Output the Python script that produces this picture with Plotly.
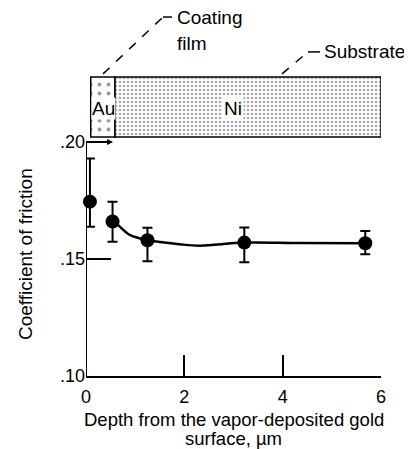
import plotly.graph_objects as go

# Data
depth = [0.08, 0.54, 1.25, 3.22, 5.68]
cof = [0.1745, 0.166, 0.158, 0.157, 0.1567]
cof_upper = [0.193, 0.1745, 0.1634, 0.1635, 0.162]
cof_lower = [0.1638, 0.1574, 0.149, 0.1486, 0.152]

curve_depth = [0.54, 0.65, 0.89, 1.25, 1.91, 2.32, 3.21, 4.35, 5.67]
curve_cof = [0.166, 0.1645, 0.1603, 0.1581, 0.1563, 0.1557, 0.1570, 0.1568, 0.1567]

x_ticks = [0, 2, 4, 6]
x_ticktext = ["0", "2", "4", "6"]
y_ticks = [0.10, 0.15, 0.20]
y_ticktext = [".10", ".15", ".20"]

FONT = "Liberation Sans, Arial, sans-serif"

err_plus = [u - c for u, c in zip(cof_upper, cof)]
err_minus = [c - l for c, l in zip(cof, cof_lower)]

fig = go.Figure()

# Layer diagram (Au coating film + Ni substrate)
box_base, box_h = 0.2021, 0.0257
fig.add_trace(go.Bar(
    x=[0.343], y=[box_h], base=[box_base], width=[0.494],
    marker=dict(pattern=dict(shape=".", fgcolor="#333", bgcolor="white", size=9, solidity=0.15),
                line=dict(color="black", width=1.5)),
    cliponaxis=False, showlegend=False, hoverinfo="skip"))
fig.add_trace(go.Bar(
    x=[3.295], y=[box_h], base=[box_base], width=[5.41],
    marker=dict(pattern=dict(shape=".", fgcolor="#555", bgcolor="white", size=4, solidity=0.35),
                line=dict(color="black", width=1.5)),
    cliponaxis=False, showlegend=False, hoverinfo="skip"))

# Smooth curve
fig.add_trace(go.Scatter(
    x=curve_depth, y=curve_cof, mode="lines",
    line=dict(color="black", width=2.5, shape="spline", smoothing=1.0),
    showlegend=False, hoverinfo="skip"))

# Data points with error bars
fig.add_trace(go.Scatter(
    x=depth, y=cof, mode="markers",
    marker=dict(color="black", size=14),
    error_y=dict(type="data", symmetric=False, array=err_plus, arrayminus=err_minus,
                 color="black", thickness=2, width=5),
    cliponaxis=False, showlegend=False))

ymax = 0.10 + 368 / 2340

shapes = [
    # y-axis line
    dict(type="line", xref="x", yref="y", x0=0, x1=0, y0=0.10, y1=0.20,
         line=dict(color="black", width=2)),
    # leader lines
    dict(type="line", xref="x", yref="y", x0=0.346, y0=0.2291, x1=1.566, y1=0.2534,
         line=dict(color="black", width=1.5, dash="dash")),
    dict(type="line", xref="x", yref="y", x0=1.566, y0=0.2534, x1=1.75, y1=0.2534,
         line=dict(color="black", width=1.5)),
    dict(type="line", xref="x", yref="y", x0=3.986, y0=0.2291, x1=4.515, y1=0.2385,
         line=dict(color="black", width=1.5, dash="dash")),
    dict(type="line", xref="x", yref="y", x0=4.515, y0=0.2385, x1=4.76, y1=0.2385,
         line=dict(color="black", width=1.5)),
]

tf = dict(family=FONT, size=19, color="black")
xt = dict(family=FONT, size=18.5, color="black")
annotations = [
    dict(text="Coating", x=1.81, y=0.2530, xref="x", yref="y", xanchor="left",
         yanchor="middle", showarrow=False, font=tf),
    dict(text="film", x=1.81, y=0.2423, xref="x", yref="y", xanchor="left",
         yanchor="middle", showarrow=False, font=tf),
    dict(text="Substrate", x=4.80, y=0.2385, xref="x", yref="y", xanchor="left",
         yanchor="middle", showarrow=False, font=tf),
    dict(text="Au", x=0.346, y=0.2145, xref="x", yref="y", showarrow=False, font=tf,
         bgcolor="white", borderpad=0),
    dict(text="Ni", x=2.99, y=0.2145, xref="x", yref="y", showarrow=False, font=tf,
         bgcolor="white", borderpad=1),
    dict(text="Depth from the vapor-deposited gold", x=0.5, y=-43 / 368,
         xref="paper", yref="paper", xanchor="center", yanchor="middle",
         showarrow=False, borderpad=0, font=xt),
    dict(text="surface, \u00b5m", x=0.5, y=-62 / 368,
         xref="paper", yref="paper", xanchor="center", yanchor="middle",
         showarrow=False, borderpad=0, font=xt),
    dict(text="Coefficient of friction", x=-61 / 295, y=0.1521, xref="paper", yref="y",
         textangle=-90, xanchor="center", yanchor="middle", showarrow=False, font=tf),
    # arrow on the .20 tick
    dict(text="", x=0.55, y=0.20, ax=0.0, ay=0.20, xref="x", yref="y",
         axref="x", ayref="y", showarrow=True, arrowhead=2, arrowsize=0.8,
         arrowwidth=1.5, arrowcolor="black"),
]

# The page body adds an 8 px offset, so the figure is 404x441
fig.update_layout(
    width=404, height=441,
    margin=dict(l=78, r=31, t=0, b=73),
    paper_bgcolor="white", plot_bgcolor="white",
    barmode="overlay",
    shapes=shapes, annotations=annotations,
    xaxis=dict(range=[0, 6], tickvals=x_ticks, ticktext=x_ticktext,
               ticks="inside", ticklen=21, tickwidth=2, tickcolor="black",
               showline=True, linecolor="black", linewidth=2,
               showgrid=False, zeroline=False, ticklabelstandoff=3,
               tickfont=dict(family=FONT, size=18, color="black")),
    yaxis=dict(range=[0.10, ymax], tickvals=y_ticks, ticktext=y_ticktext,
               ticks="inside", ticklen=25, tickwidth=2, tickcolor="black",
               showline=False, showgrid=False, zeroline=False,
               tickfont=dict(family=FONT, size=18, color="black")),
)

fig.write_html("out.html")
